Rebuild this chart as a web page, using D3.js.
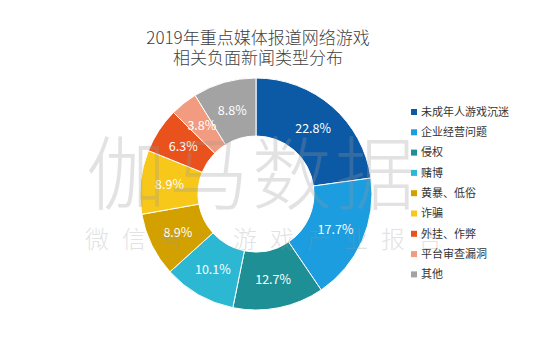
<!DOCTYPE html>
<html>
<head>
<meta charset="utf-8">
<script src="https://cdn.jsdelivr.net/npm/d3@7"></script>
<style>
  body { margin: 0; background: #fff; }
  text { font-family: "Noto Sans CJK SC", "Noto Sans", sans-serif; }
</style>
</head>
<body>
<div id="chart"></div>
<script>
const titleLines = ["2019年重点媒体报道网络游戏", "相关负面新闻类型分布"];
const categories = ["未成年人游戏沉迷", "企业经营问题", "侵权", "赌博", "黄暴、低俗", "诈骗", "外挂、作弊", "平台审查漏洞", "其他"];
const values = [22.8, 17.7, 12.7, 10.1, 8.9, 8.9, 6.3, 3.8, 8.8];
const colors = ["#0c5aa6", "#1b9de0", "#1f8f96", "#2cb8d2", "#d2a100", "#f7c719", "#e9521c", "#f19c80", "#a3a3a3"];

const width = 536, height = 337;
const cx = 256, cy = 194, outerR = 116, innerR = 58;

const svg = d3.select("#chart")
    .append("svg")
    .attr("width", width)
    .attr("height", height);

// title
svg.append("g")
    .selectAll("text")
    .data(titleLines)
    .enter()
    .append("text")
    .attr("x", 258)
    .attr("y", (d, i) => 44 + i * 20)
    .attr("text-anchor", "middle")
    .style("font-size", "17px")
    .style("font-weight", "300")
    .style("fill", "#404040")
    .text(d => d);

// donut
const pie = d3.pie().sort(null).value(d => d);
const arc = d3.arc().innerRadius(innerR).outerRadius(outerR);
const labelArc = d3.arc().innerRadius(87).outerRadius(87);

const g = svg.append("g").attr("transform", `translate(${cx}, ${cy})`);
const arcs = pie(values);

g.selectAll("path")
    .data(arcs)
    .enter()
    .append("path")
    .attr("d", arc)
    .attr("fill", (d, i) => colors[i])
    .attr("stroke", "#fff")
    .attr("stroke-width", 1);

g.selectAll(".lbl")
    .data(arcs)
    .enter()
    .append("text")
    .attr("class", "lbl")
    .attr("transform", d => `translate(${labelArc.centroid(d)})`)
    .attr("text-anchor", "middle")
    .attr("dy", "0.35em")
    .style("font-size", "12.5px")
    .style("fill", "#fff")
    .text(d => d.data.toFixed(1) + "%");

// legend
const legend = svg.append("g")
    .selectAll("g")
    .data(categories)
    .enter()
    .append("g")
    .attr("transform", (d, i) => `translate(411, ${112 + i * 20.3})`);

legend.append("rect")
    .attr("x", 0)
    .attr("y", -3)
    .attr("width", 6)
    .attr("height", 6)
    .attr("fill", (d, i) => colors[i]);

legend.append("text")
    .attr("x", 10)
    .attr("dy", "0.35em")
    .style("font-size", "11px")
    .style("fill", "#333")
    .text(d => d);

// watermark
const wm = svg.append("g").style("pointer-events", "none");
wm.append("text")
    .attr("x", 86)
    .attr("y", 203)
    .style("font-size", "80px")
    .style("font-weight", "300")
    .style("letter-spacing", "3px")
    .style("fill", "#999")
    .style("opacity", 0.28)
    .text("伽马数据");
wm.append("text")
    .attr("x", 85)
    .attr("y", 248)
    .style("font-size", "24px")
    .style("font-weight", "300")
    .style("letter-spacing", "13px")
    .style("fill", "#999")
    .style("opacity", 0.28)
    .text("微信号：游戏产业报告");
</script>
</body>
</html>
